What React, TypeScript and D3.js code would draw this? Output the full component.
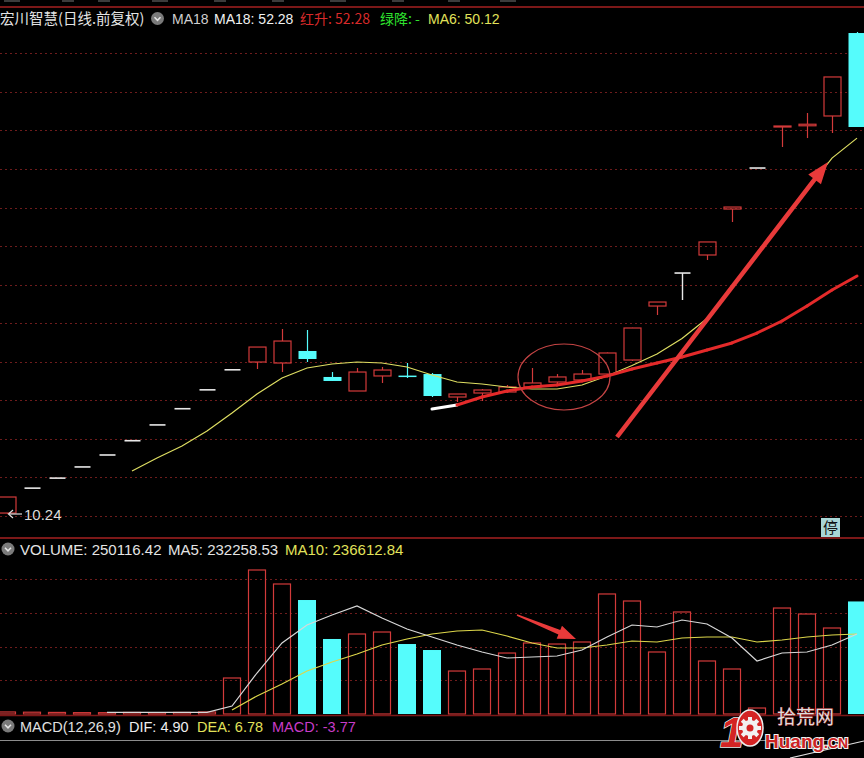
import React from "react";
import * as d3 from "d3";

const W = 864;
const H = 758;

// ---- price data (candles) ----
const candleOpen = [10.37, 13.6, 14.9, 16.35, 17.9, 19.75, 21.8, 23.9, 26.35, 28.95, 29.96, 29.83, 31.39, 28.02, 26.2, 28.15, 28.2, 28.4, 25.42, 25.94, 26.07, 26.72, 27.37, 27.63, 28.4, 30.22, 37.22, 41.5, 43.84, 49.8, 55.12, 60.44, 60.6, 61.87, 72.63];
const candleHigh = [12.45, 13.6, 14.9, 16.35, 17.9, 19.75, 21.8, 23.9, 26.35, 28.95, 31.9, 34.24, 34.11, 28.66, 29.18, 29.31, 29.83, 28.53, 25.81, 26.46, 26.98, 29.18, 28.4, 28.92, 31.2, 34.4, 37.74, 41.5, 45.53, 50.06, 55.12, 60.57, 62.26, 66.93, 72.76];
const candleLow = [10.24, 13.6, 14.9, 16.35, 17.9, 19.75, 21.8, 23.9, 26.35, 28.95, 29.05, 28.66, 29.96, 27.5, 26.2, 27.24, 27.89, 25.42, 24.77, 24.9, 25.94, 26.59, 27.11, 27.63, 28.3, 30.1, 36.06, 38.0, 43.19, 48.12, 55.12, 57.85, 59.01, 59.66, 60.44];
const candleClose = [12.45, 13.6, 14.9, 16.35, 17.9, 19.75, 21.8, 23.9, 26.35, 28.95, 31.9, 32.68, 30.35, 27.5, 28.66, 28.92, 28.15, 25.55, 25.81, 26.33, 26.72, 27.24, 28.02, 28.4, 31.13, 34.37, 37.74, 41.5, 45.53, 50.06, 55.12, 60.57, 60.8, 66.93, 60.44];

const ma6: (number | null)[] = [null, null, null, null, null, 15.82, 17.51, 19.07, 21.01, 23.35, 25.81, 27.89, 29.18, 29.7, 29.96, 29.83, 29.31, 28.27, 27.37, 27.11, 26.72, 26.46, 26.46, 26.98, 28.15, 29.5, 31.0, 33.0, 35.6, 39.6, 43.8, 48.0, 52.3, 56.4, 59.0];
const ma18: (number | null)[] = [null, null, null, null, null, null, null, null, null, null, null, null, null, null, null, null, null, 23.87, 24.38, 25.42, 26.2, 26.72, 26.98, 27.5, 28.15, 29.05, 29.83, 30.61, 31.52, 32.43, 33.72, 35.28, 37.22, 39.3, 41.12];
const priceGridTicks = [10, 15, 20, 25, 30, 35, 40, 45, 50, 55, 60, 65, 70];

// ---- volume data ----
const volume = [4500, 4000, 3500, 3000, 3000, 3500, 3000, 3500, 4500, 80000, 320000, 288900, 253300, 166700, 177800, 182200, 155500, 142200, 95500, 100000, 135500, 157800, 155500, 160000, 266700, 251100, 137800, 226700, 117800, 100000, 13300, 235500, 222200, 191100, 250116];
const volMA5: (number | null)[] = [null, null, null, null, 3500, 3500, 3500, 3500, 3500, 17800, 91100, 157800, 197800, 220000, 240000, 213300, 188900, 171100, 153300, 137800, 124400, 126700, 128900, 142200, 171100, 197800, 193300, 208900, 200000, 168900, 117800, 135500, 137800, 153300, 177800];
const volMA10: (number | null)[] = [null, null, null, null, null, null, null, null, null, 8900, 40000, 66700, 95500, 115500, 133300, 153300, 166700, 177800, 184400, 186700, 173300, 157800, 146700, 146700, 153300, 162200, 160000, 168900, 171100, 171100, 160000, 164400, 171100, 175500, 177800];
const volGridTicks = [75000, 150000, 225000, 300000];

// ---- colors ----
const RED = "#d23a3a";
const CYAN = "#55fcfc";
const WHITE = "#e8e8e8";
const GRID = "#6e1c1c";
const SEP = "#7c1818";
const YEL = "#e2e25a";

const SANS = "'Liberation Sans', Arial, sans-serif";
const CJK = "'Noto Sans CJK SC', 'Liberation Sans', sans-serif";

function arrowPoly(x1: number, y1: number, x2: number, y2: number, wTail: number, wShaft: number, headLen: number, headHalf: number) {
  const dx = x2 - x1, dy = y2 - y1;
  const L = Math.hypot(dx, dy);
  const ux = dx / L, uy = dy / L;
  const nx = -uy, ny = ux;
  const bx = x2 - ux * headLen, by = y2 - uy * headLen;
  const pts = [
    [x1 + nx * wTail / 2, y1 + ny * wTail / 2],
    [bx + nx * wShaft / 2, by + ny * wShaft / 2],
    [bx + nx * headHalf, by + ny * headHalf],
    [x2, y2],
    [bx - nx * headHalf, by - ny * headHalf],
    [bx - nx * wShaft / 2, by - ny * wShaft / 2],
    [x1 - nx * wTail / 2, y1 - ny * wTail / 2],
  ];
  return pts.map((p) => p.join(",")).join(" ");
}

function Icon({ cx, cy }: { cx: number; cy: number }) {
  return (
    <g>
      <circle cx={cx} cy={cy} r={6.5} fill="#7a7a7a" />
      <path d={`M${cx - 3},${cy - 1.2} L${cx},${cy + 1.8} L${cx + 3},${cy - 1.2}`} fill="none" stroke="#e4e4e4" strokeWidth={1.6} />
    </g>
  );
}

export default function App() {
  const x = d3.scaleLinear().domain([0, 34]).range([7, 857]);
  const y = d3.scaleLinear().domain([10, 70]).range([515.9, 53.3]);
  const vy = d3.scaleLinear().domain([0, 300000]).range([714, 579]);

  const n = candleClose.length;
  const idx = d3.range(n);

  const priceLine = d3
    .line<number>()
    .defined((i) => ma6[i] != null)
    .x((i) => x(i))
    .y((i) => y(ma6[i] as number));

  const volLine = (arr: (number | null)[]) =>
    d3
      .line<number>()
      .defined((i) => arr[i] != null)
      .x((i) => x(i))
      .y((i) => vy(arr[i] as number))(idx) || "";

  const half = 9;

  // MA18 segments
  const ma18Segs: { x1: number; y1: number; x2: number; y2: number; c: string }[] = [];
  let first = true;
  for (let i = 1; i < n; i++) {
    const a = ma18[i - 1], b = ma18[i];
    if (a == null || b == null) continue;
    const c = first ? "#ffffff" : b >= a ? "#e42a2a" : "#22dd22";
    first = false;
    ma18Segs.push({ x1: x(i - 1), y1: y(a), x2: x(i), y2: y(b), c });
  }

  return (
    <svg width={W} height={H} style={{ position: "fixed", left: 0, top: 0, background: "#000" }}>
      <rect x={0} y={0} width={W} height={H} fill="#000" />

      {/* faint cut-off top text row */}
      <g fill="#555">
        {[4, 62, 98, 152, 214, 272, 330, 392, 448, 500].map((px, k) => (
          <rect key={k} x={px} y={0} width={k % 3 === 0 ? 16 : 12} height={2} opacity={0.7} />
        ))}
      </g>

      {/* separators */}
      <line x1={0} x2={W} y1={7} y2={7} stroke={SEP} strokeWidth={2} />
      <line x1={0} x2={W} y1={538} y2={538} stroke={SEP} strokeWidth={2} />

      {/* price grid */}
      {priceGridTicks.map((t) => (
        <line key={t} x1={0} x2={W} y1={Math.round(y(t)) + 0.5} y2={Math.round(y(t)) + 0.5} stroke={GRID} strokeWidth={1} strokeDasharray="2,3" />
      ))}

      {/* candles */}
      {idx.map((i) => {
        const o = candleOpen[i], c = candleClose[i], h = candleHigh[i], l = candleLow[i];
        const cx = Math.round(x(i)) + 0.5;
        if (o === c) {
          return (
            <g key={i} stroke={WHITE} strokeWidth={1.6}>
              <line x1={cx - 8} x2={cx + 8} y1={y(c)} y2={y(c)} />
              {h !== l && <line x1={cx} x2={cx} y1={y(h)} y2={y(l)} strokeWidth={1.4} />}
            </g>
          );
        }
        if (c > o) {
          const top = y(c), bot = y(o);
          return (
            <g key={i} stroke={RED} strokeWidth={1.2} fill="none">
              <line x1={cx} x2={cx} y1={y(h)} y2={top} />
              <line x1={cx} x2={cx} y1={bot} y2={y(l)} />
              <rect x={cx - half + 0.5} y={top} width={2 * half - 1} height={Math.max(1, bot - top)} />
            </g>
          );
        }
        const top = y(o), bot = y(c);
        return (
          <g key={i}>
            <line x1={cx} x2={cx} y1={y(h)} y2={y(l)} stroke={CYAN} strokeWidth={1.2} />
            <rect x={cx - half} y={top} width={2 * half} height={Math.max(1.5, bot - top)} fill={CYAN} />
          </g>
        );
      })}

      {/* MA6 */}
      <path d={priceLine(idx) || ""} fill="none" stroke="#dede62" strokeWidth={1.2} />
      {/* MA18 */}
      {ma18Segs.map((s, k) => (
        <line key={k} x1={s.x1} y1={s.y1} x2={s.x2} y2={s.y2} stroke={s.c} strokeWidth={3} strokeLinecap="round" />
      ))}

      {/* annotations */}
      <ellipse cx={564} cy={377} rx={46} ry={33} fill="none" stroke="#c44444" strokeWidth={1.2} />
      <polygon points={arrowPoly(617, 437, 828, 162, 4.5, 4.5, 22, 8)} fill="#e83a3a" />

      {/* lowest price marker */}
      <line x1={9} x2={22} y1={514} y2={514} stroke="#dcdcdc" strokeWidth={1.2} />
      <path d="M13,510 L8.5,514 L13,518" fill="none" stroke="#dcdcdc" strokeWidth={1.2} />
      <text x={24} y={520} fontSize={15} fontFamily={SANS} fill="#dcdcdc">10.24</text>

      {/* 停 box */}
      <rect x={821} y={518} width={19} height={19} fill="#a9d6d6" />
      <text x={830.5} y={533} fontSize={15} fontFamily={CJK} fill="#111" textAnchor="middle">停</text>

      {/* header */}
      <text x={0} y={24} fontSize={14.5} fontFamily={CJK} fill="#e4e4e4">宏川智慧(日线.前复权)</text>
      <Icon cx={157.5} cy={18.5} />
      <text x={172} y={24} fontSize={14} fontFamily={SANS} fill="#cfcfcf">MA18</text>
      <text x={214} y={24} fontSize={14} fontFamily={SANS} fill="#f0f0f0">MA18: 52.28</text>
      <text x={300} y={24} fontSize={14} fontFamily={CJK} fill="#d82a2a">红升: 52.28</text>
      <text x={380} y={24} fontSize={14} fontFamily={CJK} fill="#2ee02e">绿降: -</text>
      <text x={428} y={24} fontSize={14} fontFamily={SANS} fill={YEL}>MA6: 50.12</text>

      {/* volume panel */}
      {volGridTicks.map((t) => (
        <line key={t} x1={0} x2={W} y1={Math.round(vy(t)) + 0.5} y2={Math.round(vy(t)) + 0.5} stroke={GRID} strokeWidth={1} strokeDasharray="2,3" />
      ))}
      {idx.map((i) => {
        const cx = Math.round(x(i));
        const top = vy(volume[i]);
        const down = candleClose[i] < candleOpen[i];
        if (down) {
          return <rect key={i} x={cx - half} y={top} width={2 * half} height={714 - top} fill={CYAN} />;
        }
        return (
          <rect key={i} x={cx - half + 0.5} y={top} width={2 * half - 1} height={Math.max(1.5, 714 - top)} fill="none" stroke={RED} strokeWidth={1.2} />
        );
      })}
      <path d={volLine(volMA10)} fill="none" stroke="#dcd64a" strokeWidth={1.2} />
      <path d={volLine(volMA5)} fill="none" stroke="#d8d8d8" strokeWidth={1.2} />
      <polygon points={arrowPoly(517, 615, 576, 639, 1.5, 5, 18, 7)} fill="#e83a3a" />

      <text x={20} y={555} fontSize={15} fontFamily={SANS} fill="#e4e4e4">VOLUME: 250116.42</text>
      <Icon cx={8} cy={549} />
      <text x={168} y={555} fontSize={15} fontFamily={SANS} fill="#e4e4e4">MA5: 232258.53</text>
      <text x={285} y={555} fontSize={15} fontFamily={SANS} fill={YEL}>MA10: 236612.84</text>

      <line x1={0} x2={W} y1={715.5} y2={715.5} stroke={SEP} strokeWidth={1.5} />

      {/* MACD panel */}
      <Icon cx={8} cy={726} />
      <text x={20} y={732} fontSize={14.5} fontFamily={SANS} fill="#e0e0e0">MACD(12,26,9)</text>
      <text x={129} y={732} fontSize={14.5} fontFamily={SANS} fill="#eeeeee">DIF: 4.90</text>
      <text x={197} y={732} fontSize={14.5} fontFamily={SANS} fill={YEL}>DEA: 6.78</text>
      <text x={272} y={732} fontSize={14.5} fontFamily={SANS} fill="#c83cc8">MACD: -3.77</text>
      <line x1={0} x2={848} y1={740.5} y2={740.5} stroke="#8c8c8c" strokeWidth={1} />
      <line x1={790} y1={758} x2={864} y2={741} stroke="#e0e0e0" strokeWidth={1.2} />

      {/* watermark */}
      <g>
        <text x={720} y={747} fontSize={42} fontWeight="bold" fontStyle="italic" fontFamily={SANS} fill="#d42424" stroke="#eeeeee" strokeWidth={1.5} paintOrder="stroke">1</text>
        <ellipse cx={750} cy={728} rx={13} ry={18} fill="#d42424" stroke="#eeeeee" strokeWidth={1.5} />
        <g transform="translate(750,728)">
          {d3.range(8).map((k) => (
            <rect key={k} x={-2} y={-11} width={4} height={5} fill="#f2f2f2" transform={`rotate(${k * 45})`} />
          ))}
          <circle r={8} fill="#f2f2f2" />
          <circle r={3.5} fill="#d42424" />
        </g>
        <text x={777} y={724} fontSize={19} fontFamily={CJK} fill="#dcdcdc" stroke="#9c2020" strokeWidth={0.8} paintOrder="stroke">拾荒网</text>
        <text x={765} y={748} fontFamily={SANS} fontWeight="bold" fill="#cc2424" stroke="#f2f2f2" strokeWidth={2.2} paintOrder="stroke">
          <tspan fontSize={19}>Huang</tspan>
          <tspan fontSize={14}>.CN</tspan>
        </text>
      </g>
    </svg>
  );
}
